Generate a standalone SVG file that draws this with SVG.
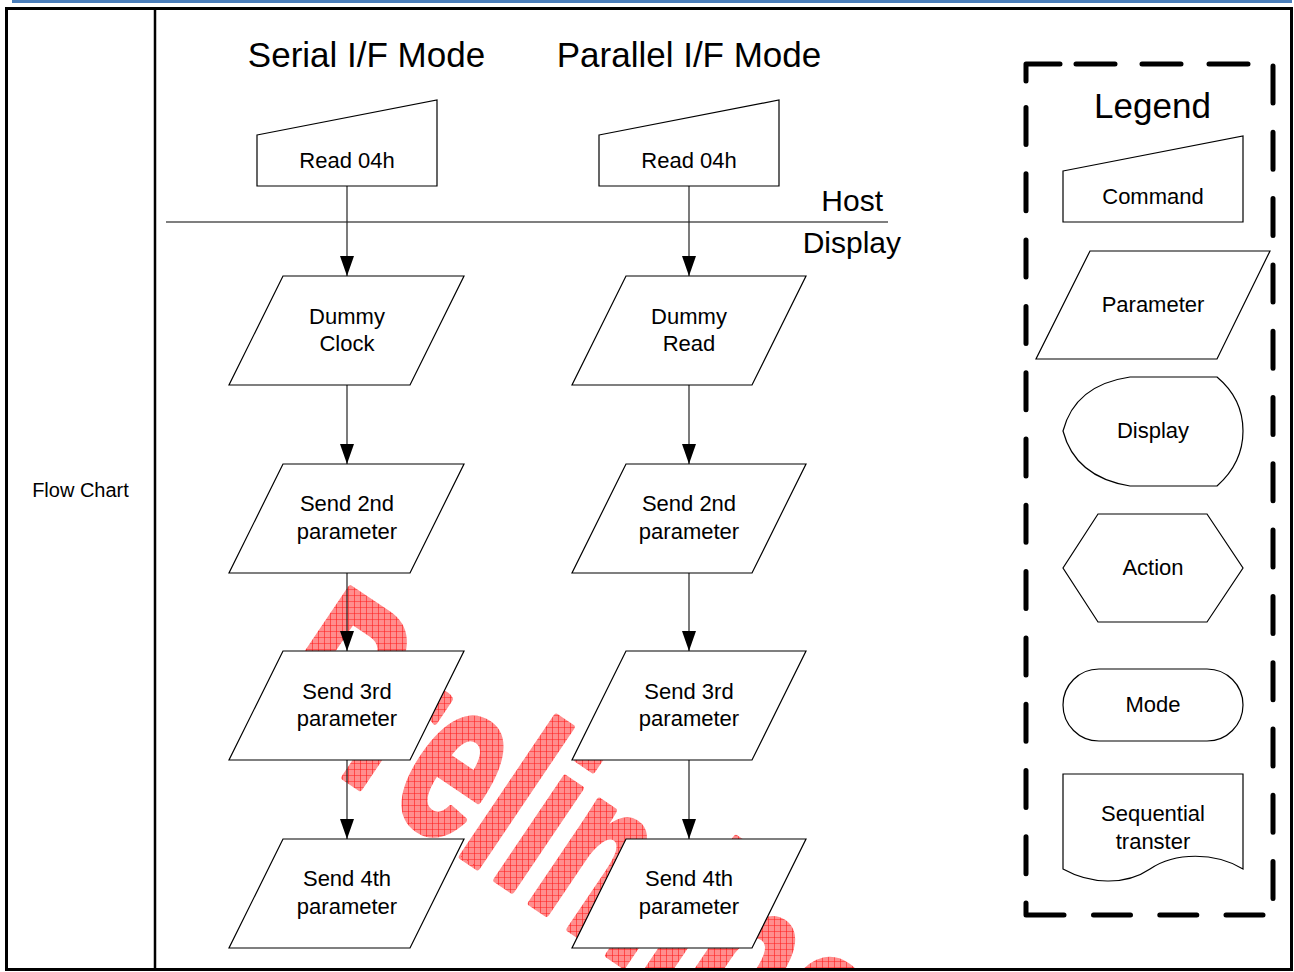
<svg xmlns="http://www.w3.org/2000/svg" width="1294" height="972" viewBox="0 0 1294 972">
<style>
.shape{fill:#fff;stroke:#000;stroke-width:1.2}
.t{font-family:"Liberation Sans",Arial,sans-serif;fill:#000;text-anchor:middle}
.n{font-size:22px}
.conn{stroke:#222;stroke-width:1.2;fill:none}
</style>
<defs>
<marker id="arr" markerUnits="userSpaceOnUse" markerWidth="20" markerHeight="14" refX="20" refY="7" orient="auto">
<path d="M0,0 L20,7 L0,14 z" fill="#000"/>
</marker>
<pattern id="hatch" patternUnits="userSpaceOnUse" width="6" height="6" patternTransform="scale(1,0.645) rotate(-34)">
<rect width="6" height="6" fill="#ff8e8e"/>
<path d="M0,0 H6 M0,0 V6" stroke="#ff1a1a" stroke-width="1.2"/>
</pattern>
<clipPath id="wmclip"><rect x="8" y="10" width="1282" height="958"/></clipPath>
</defs>
<rect width="1294" height="972" fill="#fff"/>
<g id="watermark" clip-path="url(#wmclip)">
<text x="0" y="0" transform="translate(252,715) rotate(34) scale(1,1.55)" font-family="'Liberation Sans',Arial,sans-serif" font-weight="bold" font-size="150" fill="url(#hatch)" stroke="url(#hatch)" stroke-width="4" stroke-linejoin="round">Preliminary</text>
</g>
<g id="frame">
<line x1="12" y1="1.5" x2="1292" y2="1.5" stroke="#4a7ebb" stroke-width="3"/>
<rect x="6.5" y="8.5" width="1285" height="961" fill="none" stroke="#000" stroke-width="3"/>
<line x1="155" y1="8" x2="155" y2="970" stroke="#000" stroke-width="2.5"/>
<text class="t" x="80.5" y="497" font-size="20">Flow Chart</text>
</g>
<g id="titles">
<text class="t" x="366.5" y="67" font-size="35">Serial I/F Mode</text>
<text class="t" x="689" y="67" font-size="35">Parallel I/F Mode</text>
</g>
<g id="host-display">
<line x1="166" y1="222" x2="888" y2="222" stroke="#000" stroke-width="1.2"/>
<text class="t" x="883" y="211" font-size="30" style="text-anchor:end">Host</text>
<text class="t" x="901" y="253" font-size="30" style="text-anchor:end">Display</text>
</g>
<g id="connectors">
<path class="conn" d="M347,186 V276" marker-end="url(#arr)"/>
<path class="conn" d="M347,385 V464" marker-end="url(#arr)"/>
<path class="conn" d="M347,573 V651" marker-end="url(#arr)"/>
<path class="conn" d="M347,760 V839" marker-end="url(#arr)"/>
<path class="conn" d="M689,186 V276" marker-end="url(#arr)"/>
<path class="conn" d="M689,385 V464" marker-end="url(#arr)"/>
<path class="conn" d="M689,573 V651" marker-end="url(#arr)"/>
<path class="conn" d="M689,760 V839" marker-end="url(#arr)"/>
</g>
<g id="s-read">
<polygon class="shape" points="257,135 437,100 437,186 257,186"/>
<text class="t n" x="347" y="168">Read 04h</text>
</g>
<g id="s-dummy">
<polygon class="shape" points="283,276 464,276 410,385 229,385"/>
<text class="t n" x="347" y="324">Dummy</text>
<text class="t n" x="347" y="351">Clock</text>
</g>
<g id="s-p2">
<polygon class="shape" points="283,464 464,464 410,573 229,573"/>
<text class="t n" x="347" y="511">Send 2nd</text>
<text class="t n" x="347" y="539">parameter</text>
</g>
<g id="s-p3">
<polygon class="shape" points="283,651 464,651 410,760 229,760"/>
<text class="t n" x="347" y="699">Send 3rd</text>
<text class="t n" x="347" y="726">parameter</text>
</g>
<g id="s-p4">
<polygon class="shape" points="283,839 464,839 410,948 229,948"/>
<text class="t n" x="347" y="886">Send 4th</text>
<text class="t n" x="347" y="914">parameter</text>
</g>
<g id="p-read">
<polygon class="shape" points="599,135 779,100 779,186 599,186"/>
<text class="t n" x="689" y="168">Read 04h</text>
</g>
<g id="p-dummy">
<polygon class="shape" points="626,276 806,276 752,385 572,385"/>
<text class="t n" x="689" y="324">Dummy</text>
<text class="t n" x="689" y="351">Read</text>
</g>
<g id="p-p2">
<polygon class="shape" points="626,464 806,464 752,573 572,573"/>
<text class="t n" x="689" y="511">Send 2nd</text>
<text class="t n" x="689" y="539">parameter</text>
</g>
<g id="p-p3">
<polygon class="shape" points="626,651 806,651 752,760 572,760"/>
<text class="t n" x="689" y="699">Send 3rd</text>
<text class="t n" x="689" y="726">parameter</text>
</g>
<g id="p-p4">
<polygon class="shape" points="626,839 806,839 752,948 572,948"/>
<text class="t n" x="689" y="886">Send 4th</text>
<text class="t n" x="689" y="914">parameter</text>
</g>
<g id="legend">
<path d="M1026,81 V64 H1060 M1076,64 H1115 M1142,64 H1181 M1209,64 H1248 M1026,903 V915 H1064 M1093.5,915 H1130.5 M1159.8,915 H1196.8 M1226,915 H1263" fill="none" stroke="#000" stroke-width="5" stroke-linecap="round" stroke-linejoin="round"/>
<line x1="1273" y1="66" x2="1273" y2="915" stroke="#000" stroke-width="5" stroke-linecap="round" stroke-dasharray="37 29.3"/>
<line x1="1026" y1="107.5" x2="1026" y2="880" stroke="#000" stroke-width="5" stroke-linecap="round" stroke-dasharray="37 29.3"/>
<text class="t" x="1152.5" y="118" font-size="35">Legend</text>
</g>
<g id="lg-command">
<polygon class="shape" points="1063,171 1243,136 1243,222 1063,222"/>
<text class="t n" x="1153" y="204">Command</text>
</g>
<g id="lg-parameter">
<polygon class="shape" points="1090,251 1270,251 1217,359 1036,359"/>
<text class="t n" x="1153" y="312">Parameter</text>
</g>
<g id="lg-display">
<path class="shape" d="M1130,377 H1217 C1235,392 1243,410 1243,431 C1243,452 1235,470 1217,486 H1130 Q1075,477 1063,431 Q1075,385 1130,377 Z"/>
<text class="t n" x="1153" y="438">Display</text>
</g>
<g id="lg-action">
<polygon class="shape" points="1098,514 1207,514 1243,568 1207,622 1098,622 1063,568"/>
<text class="t n" x="1153" y="575">Action</text>
</g>
<g id="lg-mode">
<rect class="shape" x="1063" y="669" width="180" height="72" rx="36" ry="36"/>
<text class="t n" x="1153" y="712">Mode</text>
</g>
<g id="lg-seq">
<path class="shape" d="M1063,774 H1243 V869 C1215,852 1175,852 1150,869 C1125,886 1090,884 1063,869 Z"/>
<text class="t n" x="1153" y="821">Sequential</text>
<text class="t n" x="1153" y="849">transter</text>
</g>
</svg>
